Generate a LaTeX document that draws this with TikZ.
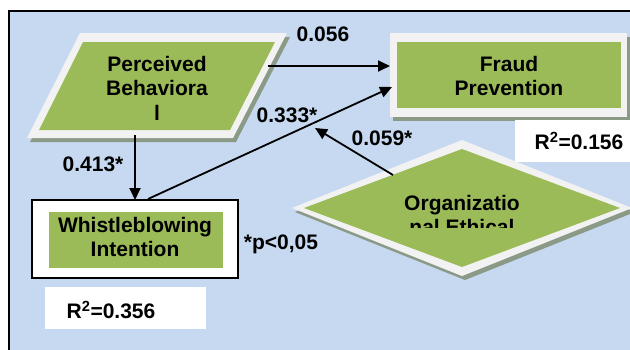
\documentclass[tikz,border=0pt]{standalone}
\usepackage{fontspec}
\setmainfont{Liberation Sans}
\usetikzlibrary{arrows.meta}
\definecolor{bgblue}{HTML}{C6D9F1}
\definecolor{grn}{HTML}{9BBB59}
\definecolor{rim}{HTML}{F2F2F2}
\definecolor{shd}{HTML}{8A9A86}
\begin{document}
\begin{tikzpicture}[x=1pt,y=-1pt,
  txt/.style={font=\bfseries\fontsize{21}{24.5}\selectfont, text=black, inner sep=0pt, align=center},
  conn/.style={line width=1.8pt, -{Triangle[length=12pt,width=11pt]}},
  shadowfill/.style={fill=shd},
  rimfill/.style={fill=rim},
  greenfill/.style={fill=grn}]
\clip (0,0) rectangle (630,349);
\useasboundingbox (0,0) rectangle (630,349);
\fill[white] (0,0) rectangle (630,349);
\fill[bgblue] (9,11) rectangle (640,360);
\draw[line width=2pt] (9,360) -- (9,11) -- (640,11);

% Perceived Behavioral (parallelogram)
\fill[shadowfill, shift={(3,4)}] (80,33) -- (287,33) -- (233,138) -- (27,138) -- cycle;
\fill[rimfill] (80,33) -- (287,33) -- (233,138) -- (27,138) -- cycle;
\fill[greenfill] (83,42) -- (275,42) -- (230,130) -- (39,130) -- cycle;
\node[txt] (pb) at (157,88) {Perceived\\Behaviora\\l};

% Fraud Prevention
\fill[shadowfill] (393,37) rectangle (630,121);
\fill[rimfill] (390,33) rectangle (627,117);
\fill[greenfill] (397,42) rectangle (621,108);
\node[txt] (fp) at (509,76) {Fraud\\Prevention};

% R2 box right
\fill[white] (515,120) rectangle (640,162);
\node[txt] (r2a) at (579,141) {R\textsuperscript{2}=0.156};

% Organizational Ethical (diamond)
\fill[shadowfill, shift={(3,4)}] (462,140) -- (632,208) -- (462,276) -- (292,208) -- cycle;
\fill[rimfill] (462,140) -- (632,208) -- (462,276) -- (292,208) -- cycle;
\fill[greenfill] (462,149) -- (620,208) -- (462,267) -- (304,208) -- cycle;
\begin{scope}
\clip (395,182) rectangle (527,227);
\node[txt, anchor=north] (oe) at (462,195) {Organizatio\\nal Ethical};
\end{scope}

% Whistleblowing Intention
\fill[white] (32,200) rectangle (238,278);
\draw[line width=2pt] (32,200) rectangle (238,278);
\fill[greenfill] (49,212) rectangle (223,268);
\node[txt] (wi) at (135,237) {Whistleblowing\\Intention};

% R2 box left
\fill[white] (45,287) rectangle (206,329);
\node[txt] (r2b) at (111,310) {R\textsuperscript{2}=0.356};

\node[txt] (pnote) at (281,244) {*p<0,05};

% connector end points
\coordinate (pbE) at (268,66);
\coordinate (fpW) at (390,66);
\coordinate (pbS) at (135,135);
\coordinate (wiN) at (135,200);
\coordinate (wiNE) at (148,199);
\coordinate (fpSW) at (392,87);
\coordinate (oeNW) at (393,175);
\coordinate (tip4) at (315,128);

\draw[conn] (pbE) -- (fpW);
\draw[conn] (pbS) -- (wiN);
\draw[conn] (wiNE) -- (fpSW);
\draw[conn] (oeNW) -- (tip4);

% labels
\node[txt] (l1) at (323,34) {0.056};
\node[txt] (l2) at (287,115) {0.333*};
\node[txt] (l3) at (93,164) {0.413*};
\node[txt] (l4) at (382,138) {0.059*};
\end{tikzpicture}
\end{document}
